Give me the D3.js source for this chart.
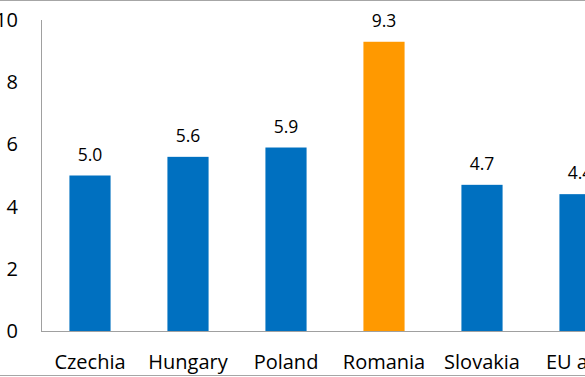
<!DOCTYPE html>
<html><head><meta charset="utf-8">
<script src="https://cdn.jsdelivr.net/npm/d3@7"></script>
<style>html,body{margin:0;padding:0;background:#fff;overflow:hidden}svg{display:block}</style>
</head><body>
<script>
const categories = ["Czechia", "Hungary", "Poland", "Romania", "Slovakia", "EU avg."];
const values = [5.0, 5.6, 5.9, 9.3, 4.7, 4.4];
const highlight = ["Romania"];
const yTicks = [0, 2, 4, 6, 8, 10];

const W = 585, H = 377;
const font = "'Open Sans', sans-serif";
const svg = d3.select("body").append("svg").attr("width", W).attr("height", H);

const x0 = 41, y0 = 331, yTop = 20;
const x = d3.scaleBand().domain(categories).range([x0, x0 + 98 * categories.length])
  .paddingInner(0.58).paddingOuter(0.29);
const y = d3.scaleLinear().domain([0, 10]).range([y0, yTop]);

// frame lines (top and bottom)
svg.append("line").attr("x1", 0).attr("x2", W).attr("y1", 0.5).attr("y2", 0.5).attr("stroke", "#a6a6a6");
svg.append("line").attr("x1", 0).attr("x2", W).attr("y1", H - 1.5).attr("y2", H - 1.5).attr("stroke", "#a6a6a6");

// bars
svg.selectAll("rect.bar").data(categories).join("rect")
  .attr("x", d => x(d)).attr("width", x.bandwidth())
  .attr("y", (d, i) => y(values[i])).attr("height", (d, i) => y0 - y(values[i]))
  .attr("fill", d => highlight.includes(d) ? "#FF9900" : "#0070C0");

// axes lines
svg.append("line").attr("x1", x0 + 0.5).attr("x2", x0 + 0.5).attr("y1", yTop).attr("y2", y0).attr("stroke", "#a0a0a0");
svg.append("line").attr("x1", x0).attr("x2", W).attr("y1", y0 + 0.5).attr("y2", y0 + 0.5).attr("stroke", "#a0a0a0");

// y tick labels
const yAxis = d3.axisLeft(y).tickValues(yTicks).tickSize(0).tickPadding(0);
const gy = svg.append("g").attr("transform", "translate(18,0)").call(yAxis);
gy.select(".domain").remove();
gy.selectAll("text").attr("font-family", font).attr("font-size", 20).attr("fill", "#000");

// x labels
const xAxis = d3.axisBottom(x).tickSize(0).tickPadding(0);
const gx = svg.append("g").attr("transform", `translate(0,${y0 + 24})`).call(xAxis);
gx.select(".domain").remove();
gx.selectAll("text").attr("font-family", font).attr("font-size", 20).attr("fill", "#000");

// value labels
svg.selectAll("text.val").data(categories).join("text").attr("class", "val")
  .attr("x", d => x(d) + x.bandwidth() / 2)
  .attr("y", (d, i) => y(values[i]) - 15)
  .attr("text-anchor", "middle").attr("font-family", font).attr("font-size", 17.5).attr("fill", "#000")
  .text((d, i) => d3.format(".1f")(values[i]));
</script>
</body></html>
